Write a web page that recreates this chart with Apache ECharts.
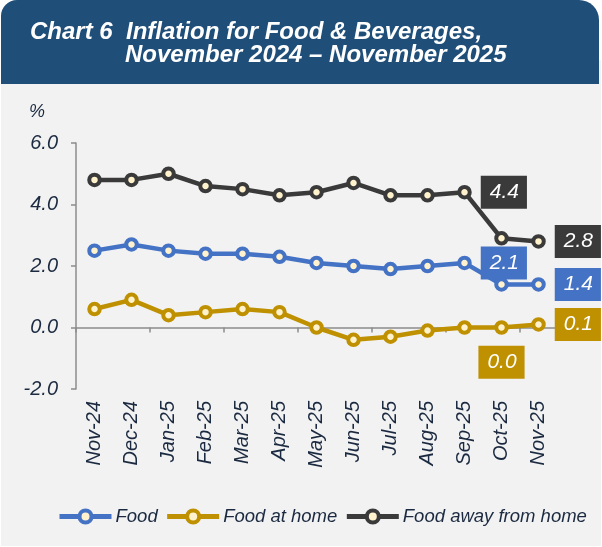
<!DOCTYPE html>
<html lang="en">
  <head>
    <meta charset="UTF-8" />
    <title>Chart 6 Inflation for Food &amp; Beverages</title>
    <script src="https://cdn.jsdelivr.net/npm/echarts@6.0.0/dist/echarts.min.js"></script>
    <style>
      body { margin: 0; background: #fff; }
      #main { width: 602px; height: 547px; }
    </style>
  </head>
  <body>
    <div id="main"></div>
    <script type="text/javascript">
      // data (%)
      const categories = ["Nov-24", "Dec-24", "Jan-25", "Feb-25", "Mar-25", "Apr-25", "May-25",
        "Jun-25", "Jul-25", "Aug-25", "Sep-25", "Oct-25", "Nov-25"];
      const food = [2.5, 2.7, 2.5, 2.4, 2.4, 2.3, 2.1, 2.0, 1.9, 2.0, 2.1, 1.4, 1.4];
      const foodAtHome = [0.6, 0.9, 0.4, 0.5, 0.6, 0.5, 0.0, -0.4, -0.3, -0.1, 0.0, 0.0, 0.1];
      const foodAway = [4.8, 4.8, 5.0, 4.6, 4.5, 4.3, 4.4, 4.7, 4.3, 4.3, 4.4, 2.9, 2.8];
      const yMin = -2, yMax = 6, yStep = 2;

      // which points carry a value box
      const foodLabels = [10, 12];
      const homeLabels = [11, 12];
      const awayLabels = [10, 12];

      const textColor = "#1b2a40";
      const axisColor = "#8c8c8c";
      const cream = "#FFF2CC";

      function makeSeries(name, values, color, labelIdx) {
        return {
          name: name,
          type: "line",
          data: values.map(function (v, i) {
            if (labelIdx.indexOf(i) < 0) return v;
            const below = name === "Food at home" && i === 11;
            return {
              value: v,
              label: {
                show: true,
                position: below ? "bottom" : "right",
                distance: below ? 11 : 9,
                formatter: function (p) { return p.value.toFixed(1); },
                backgroundColor: color,
                color: "#fff",
                fontStyle: "italic",
                fontFamily: "Arial",
                fontSize: 21,
                lineHeight: 21,
                padding: [6, 8, 6, 9]
              }
            };
          }),
          symbol: "circle",
          symbolSize: 10.5,
          lineStyle: { color: color, width: 4.5 },
          itemStyle: { color: cream, borderColor: color, borderWidth: 4 },
          emphasis: { disabled: true },
          animation: false
        };
      }

      var myChart = echarts.init(document.getElementById("main"));
      var option = {
        backgroundColor: "transparent",
        animation: false,
        graphic: [
          { type: "rect", z: -10, shape: { x: 1, y: 60, width: 600, height: 486 }, style: { fill: "#F2F2F2" } },
          { type: "rect", z: -9, shape: { x: 1, y: 0, width: 598, height: 84, r: [16, 20, 0, 0] }, style: { fill: "#1F4E79" } },
          { type: "text", z: 5, left: 29, top: 103, style: { text: "%", fill: textColor, font: "italic 18px Arial" } }
        ],
        title: [
          {
            text: "Chart 6  Inflation for Food & Beverages,",
            left: 30, top: 20, padding: 0,
            textStyle: { color: "#fff", fontSize: 24, fontWeight: "bold", fontStyle: "italic", fontFamily: "Arial" }
          },
          {
            text: "November 2024 \u2013 November 2025",
            left: 125, top: 43, padding: 0,
            textStyle: { color: "#fff", fontSize: 24, fontWeight: "bold", fontStyle: "italic", fontFamily: "Arial" }
          }
        ],
        legend: {
          left: 57, top: 507, padding: 0,
          itemWidth: 52, itemHeight: 15, itemGap: 7,
          lineStyle: { width: 5 },
          itemStyle: { color: cream, borderWidth: 4 },
          textStyle: { color: textColor, fontSize: 18.5, fontStyle: "italic", fontFamily: "Arial", padding: [0, 0, 0, -1] },
          data: ["Food", "Food at home", "Food away from home"]
        },
        grid: { left: 76, right: 45, top: 143, bottom: 158, containLabel: false },
        xAxis: [
          {
            type: "category", data: categories, position: "top", boundaryGap: true,
            axisLine: { onZero: true, lineStyle: { color: axisColor, width: 1.5 } },
            axisTick: { show: true, inside: true, interval: 1, length: 5, lineStyle: { color: axisColor, width: 1.5 } },
            axisLabel: { show: false },
            splitLine: { show: false }
          },
          {
            type: "category", data: categories, position: "bottom", boundaryGap: true,
            axisLine: { show: false, onZero: false },
            axisTick: { show: false },
            axisLabel: { rotate: 90, margin: 12, interval: 0, color: textColor, fontSize: 20, fontStyle: "italic", fontFamily: "Arial" },
            splitLine: { show: false }
          }
        ],
        yAxis: {
          type: "value", min: yMin, max: yMax, interval: yStep,
          axisLine: { show: true, onZero: false, lineStyle: { color: axisColor, width: 1.5 } },
          axisTick: { show: true, length: 5, lineStyle: { color: axisColor, width: 1.5 } },
          axisLabel: {
            margin: 18, color: textColor, fontSize: 20, fontStyle: "italic", fontFamily: "Arial",
            formatter: function (v) { return v.toFixed(1); }
          },
          splitLine: { show: false }
        },
        series: [
          makeSeries("Food", food, "#4472C4", foodLabels),
          makeSeries("Food at home", foodAtHome, "#BF9000", homeLabels),
          makeSeries("Food away from home", foodAway, "#3A3A3A", awayLabels)
        ]
      };
      myChart.setOption(option);
    </script>
  </body>
</html>
